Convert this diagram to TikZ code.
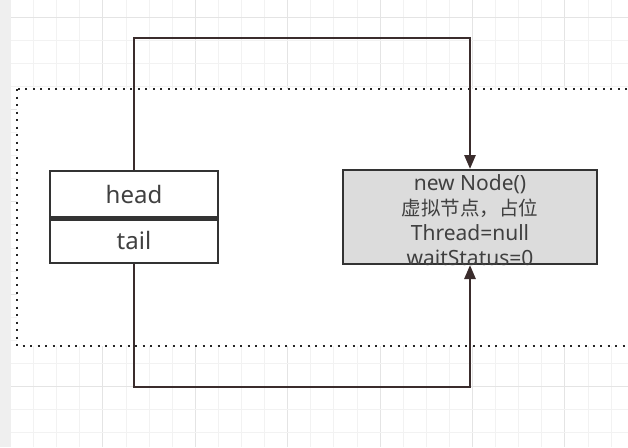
\documentclass[tikz,border=0pt]{standalone}
\usepackage{fontspec}
\setmainfont{Noto Sans}
\newfontfamily\cjkfont{Noto Sans CJK SC}
\usetikzlibrary{arrows.meta}
\definecolor{gridminor}{HTML}{F2F2F2}
\definecolor{gridmajor}{HTML}{E4E4E4}
\definecolor{strip}{HTML}{EFEFEF}
\definecolor{conn}{HTML}{3A2C2C}
\definecolor{boxline}{HTML}{333333}
\definecolor{nodefill}{HTML}{DCDCDC}
\definecolor{txt}{HTML}{404040}
\tikzset{
  cell/.style={draw=boxline, line width=2pt, fill=white, minimum width=168pt, minimum height=46pt, inner sep=0pt, text=txt, font=\fontsize{24}{28}\selectfont},
  vnode/.style={draw=boxline, line width=2pt, fill=nodefill, minimum width=254pt, minimum height=94pt, inner sep=0pt, text=txt, align=center, font=\fontsize{21}{25}\selectfont},
  conn/.style={draw=conn, line width=2.7pt, -{Stealth[length=14pt,width=11pt,inset=0pt]}},
}
\begin{document}
\begin{tikzpicture}[x=1pt,y=-1pt]
\useasboundingbox (0,0) rectangle (628,447);
\fill[white] (0,0) rectangle (628,447);
% grid
\foreach \i in {0,...,27} {
  \pgfmathsetmacro{\xx}{10.5+23.1*\i}
  \pgfmathtruncatemacro{\m}{mod(\i,4)}
  \ifnum\m=0
    \draw[gridmajor, line width=0.9pt] (\xx,0) -- (\xx,447);
  \else
    \draw[gridminor, line width=0.9pt] (\xx,0) -- (\xx,447);
  \fi
}
\foreach \j in {-1,...,19} {
  \pgfmathsetmacro{\yy}{17+23.1*\j}
  \pgfmathtruncatemacro{\m}{mod(\j+4,4)}
  \ifnum\m=0
    \draw[gridmajor, line width=0.9pt] (10.5,\yy) -- (628,\yy);
  \else
    \draw[gridminor, line width=0.9pt] (10.5,\yy) -- (628,\yy);
  \fi
}
\fill[strip] (0,0) rectangle (10.5,447);
% container
\draw[black!85, fill=white, line width=2pt, dash pattern=on 2pt off 5.5pt] (17,89) rectangle (650,346);
% nodes
\node[cell] (head) at (134,194) {head};
\node[cell] (tail) at (134,240) {tail};
\draw[boxline, line width=5pt] (head.south west) -- (head.south east);
\node[vnode] (vn) at (470,217) {};
\node[text=txt, align=center, font=\fontsize{21}{25}\selectfont, inner sep=0pt] (vtext) at (470,220) {new Node()\\{\cjkfont\fontsize{19.5}{25}\selectfont 虚拟节点，占位}\\Thread=null\\waitStatus=0};
\coordinate (c1) at (134,38);
\coordinate (c2) at (470,38);
\coordinate (c3) at (134,387);
\coordinate (c4) at (470,387);
\draw[conn] (head.north) -- (c1) -- (c2) -- (vn.north);
\draw[conn] (tail.south) -- (c3) -- (c4) -- (vn.south);
\end{tikzpicture}
\end{document}
